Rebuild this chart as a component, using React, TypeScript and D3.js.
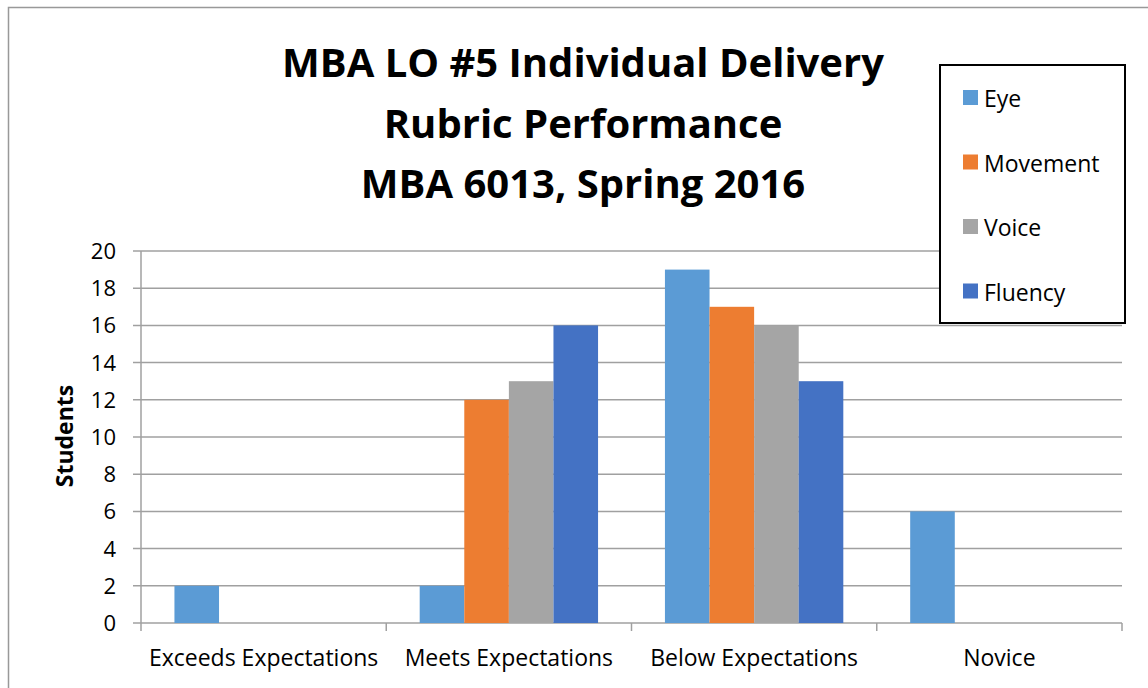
import React from 'react'
import * as d3 from 'd3'

const categories = ['Exceeds Expectations', 'Meets Expectations', 'Below Expectations', 'Novice']
const seriesNames = ['Eye', 'Movement', 'Voice', 'Fluency']
const colors = ['#5B9BD5', '#ED7D31', '#A5A5A5', '#4472C4']
const eye = [2, 2, 19, 6]
const movement = [0, 12, 17, 0]
const voice = [0, 13, 16, 0]
const fluency = [0, 16, 13, 0]
const yTicks = [0, 2, 4, 6, 8, 10, 12, 14, 16, 18, 20]
const titleLines = ['MBA LO #5 Individual Delivery', 'Rubric Performance', 'MBA 6013, Spring 2016']

const font = '"Open Sans", Lato, sans-serif'

export default function App() {
  const W = 1148
  const H = 688
  const plot = {left: 141, right: 1122, top: 251, bottom: 623}
  const allSeries = [eye, movement, voice, fluency]

  const x0 = d3.scaleBand().domain(categories).range([plot.left, plot.right])
  const x1 = d3
    .scaleBand()
    .domain(seriesNames)
    .range([0, x0.bandwidth()])
    .paddingOuter(0.75)
  const y = d3.scaleLinear().domain([0, 20]).range([plot.bottom, plot.top])

  const catTicks = [...categories.map(c => x0(c)), plot.right]

  return (
    <svg
      width={W}
      height={H}
      style={{position: 'absolute', left: 0, top: 0, background: '#fff'}}
      fontFamily={font}
    >
      {/* chart frame */}
      <rect x={8.5} y={7.5} width={W + 10} height={H + 10} fill="#fff" stroke="#999" strokeWidth={1.5} />

      {/* title */}
      {titleLines.map((t, i) => (
        <text
          key={t}
          x={583}
          y={77 + i * 60.5}
          textAnchor="middle"
          fontSize={40}
          fontWeight="bold"
          fill="#000"
        >
          {t}
        </text>
      ))}

      {/* gridlines + y ticks */}
      {yTicks.map(t => (
        <g key={t}>
          <line x1={133} x2={plot.right} y1={y(t)} y2={y(t)} stroke="#A0A0A0" strokeWidth={1.5} />
          <text x={116} y={y(t) + 8} textAnchor="end" fontSize={22} fill="#000">
            {t}
          </text>
        </g>
      ))}
      <line x1={plot.left} x2={plot.left} y1={plot.top} y2={plot.bottom} stroke="#A0A0A0" strokeWidth={1.5} />
      {catTicks.map((cx, i) => (
        <line key={i} x1={cx} x2={cx} y1={plot.bottom} y2={plot.bottom + 8} stroke="#A0A0A0" strokeWidth={1.5} />
      ))}

      {/* bars */}
      {categories.map((c, ci) => (
        <g key={c} transform={`translate(${x0(c)},0)`}>
          {seriesNames.map((s, si) => {
            const v = allSeries[si][ci]
            if (!v) return null
            return (
              <rect
                key={s}
                x={x1(s)}
                y={y(v)}
                width={x1.bandwidth()}
                height={y(0) - y(v)}
                fill={colors[si]}
              />
            )
          })}
        </g>
      ))}

      {/* category labels */}
      {categories.map(c => (
        <text
          key={c}
          x={x0(c) + x0.bandwidth() / 2}
          y={666}
          textAnchor="middle"
          fontSize={23}
          fill="#000"
        >
          {c}
        </text>
      ))}

      {/* y axis title */}
      <text
        transform="translate(73,436) rotate(-90)"
        textAnchor="middle"
        fontSize={23}
        fontWeight="bold"
        fill="#000"
      >
        Students
      </text>

      {/* legend */}
      <rect x={940} y={65} width={185} height={258} fill="#fff" stroke="#000" strokeWidth={2} />
      {seriesNames.map((s, i) => (
        <g key={s} transform={`translate(963,${107 + i * 64.5})`}>
          <rect x={0} y={-17} width={15} height={15} fill={colors[i]} />
          <text x={21} y={0} fontSize={23} fill="#000">
            {s}
          </text>
        </g>
      ))}
    </svg>
  )
}
